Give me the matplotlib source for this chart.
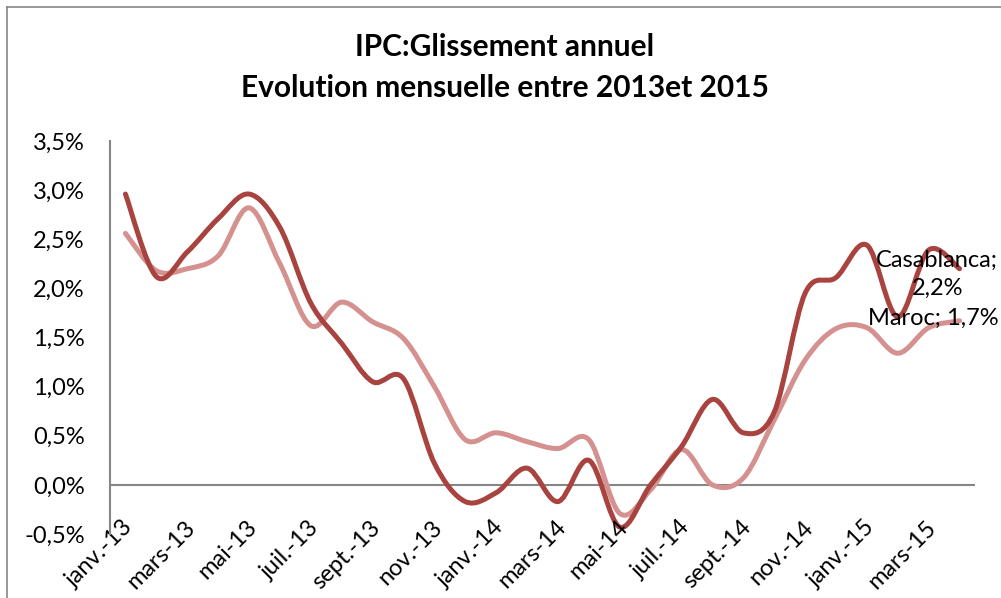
import matplotlib
matplotlib.use("Agg")
import matplotlib.pyplot as plt
import matplotlib.transforms as mtransforms
from matplotlib.path import Path
from matplotlib.patches import PathPatch
from matplotlib.lines import Line2D
from matplotlib.ticker import FuncFormatter

# mois de janv.-13 a avr.-15
months = ["janv.-13", "févr.-13", "mars-13", "avr.-13", "mai-13", "juin-13",
          "juil.-13", "août-13", "sept.-13", "oct.-13", "nov.-13", "déc.-13",
          "janv.-14", "févr.-14", "mars-14", "avr.-14", "mai-14", "juin-14",
          "juil.-14", "août-14", "sept.-14", "oct.-14", "nov.-14", "déc.-14",
          "janv.-15", "févr.-15", "mars-15", "avr.-15"]

# glissement annuel en %
casablanca = [2.96, 2.12, 2.37, 2.71, 2.96, 2.62, 1.85, 1.44, 1.05, 1.08,
              0.22, -0.17, -0.08, 0.17, -0.17, 0.25, -0.43, 0.0, 0.39, 0.87,
              0.53, 0.74, 1.95, 2.11, 2.44, 1.71, 2.39, 2.2]
maroc = [2.56, 2.18, 2.2, 2.33, 2.82, 2.25, 1.62, 1.86, 1.66, 1.49,
         1.0, 0.46, 0.53, 0.44, 0.37, 0.46, -0.29, -0.05, 0.36, 0.0,
         0.07, 0.66, 1.27, 1.59, 1.6, 1.34, 1.6, 1.67]

dark = "#A8433F"
light = "#D4918F"
grey = "#868686"


def smooth_path(ys):
    # courbe lissee facon Excel (bezier a partir des points)
    pts = list(enumerate(ys))
    n = len(pts)
    verts = [pts[0]]
    codes = [Path.MOVETO]
    for i in range(n - 1):
        p0 = pts[max(i - 1, 0)]
        p1 = pts[i]
        p2 = pts[i + 1]
        p3 = pts[min(i + 2, n - 1)]
        c1 = (p1[0] + (p2[0] - p0[0]) / 6, p1[1] + (p2[1] - p0[1]) / 6)
        c2 = (p2[0] - (p3[0] - p1[0]) / 6, p2[1] - (p3[1] - p1[1]) / 6)
        verts += [c1, c2, p2]
        codes += [Path.CURVE4] * 3
    return Path(verts, codes)


plt.rcParams['font.family'] = ['Lato', 'DejaVu Sans']

fig = plt.figure(figsize=(10.01, 5.98), dpi=100)
ax = fig.add_axes([110 / 1001, 1 - 534 / 598, 865 / 1001, 393 / 598])

ax.add_patch(PathPatch(smooth_path(maroc), fill=False, edgecolor=light,
                       lw=3.6, capstyle='round', joinstyle='round'))
ax.add_patch(PathPatch(smooth_path(casablanca), fill=False, edgecolor=dark,
                       lw=3.6, capstyle='round', joinstyle='round'))

ax.set_xlim(-0.5, len(months) - 0.5)
ax.set_ylim(-0.5, 3.5)
ax.set_yticks([-0.5, 0, 0.5, 1.0, 1.5, 2.0, 2.5, 3.0, 3.5])
ax.yaxis.set_major_formatter(FuncFormatter(lambda v, p: f"{v:.1f}%".replace(".", ",")))
ax.tick_params(axis='y', length=0, pad=18, labelsize=17)

ax.set_xticks(range(0, len(months), 2))
ax.set_xticklabels(months[::2], rotation=45, ha='right', va='top',
                   rotation_mode='anchor', fontsize=17)
ax.tick_params(axis='x', length=0, pad=-14)
shift = mtransforms.ScaledTranslation(-3 / 100, -2 / 100, fig.dpi_scale_trans)
for lab in ax.get_xticklabels():
    lab.set_transform(lab.get_transform() + shift)

for s in ['top', 'right', 'bottom']:
    ax.spines[s].set_visible(False)
ax.spines['left'].set_color(grey)
ax.spines['left'].set_linewidth(1.5)
ax.axhline(0, color=grey, lw=1.5, zorder=0)

# etiquettes des derniers points
ax.annotate("Casablanca;\n2,2%", (len(months) - 1, casablanca[-1]),
            xytext=(-16, -4), textcoords='offset points', ha='center',
            va='center', fontsize=17, linespacing=1.4)
ax.annotate("Maroc; 1,7%", (len(months) - 1, maroc[-1]),
            xytext=(-19, 2), textcoords='offset points', ha='center',
            va='center', fontsize=17)

fig.text(505 / 1001, 1 - 47 / 598, "IPC:Glissement annuel", ha='center',
         va='center', fontsize=21.5, fontweight='bold')
fig.text(505 / 1001, 1 - 88 / 598, "Evolution mensuelle entre 2013et 2015",
         ha='center', va='center', fontsize=21.5, fontweight='bold')

# cadre du graphique
fig.add_artist(Line2D([7 / 1001, 7 / 1001], [0, 1 - 7 / 598],
                      transform=fig.transFigure, color=grey, lw=1.2))
fig.add_artist(Line2D([7 / 1001, 1], [1 - 7 / 598, 1 - 7 / 598],
                      transform=fig.transFigure, color=grey, lw=1.2))

fig.savefig("out.png", dpi=100)
